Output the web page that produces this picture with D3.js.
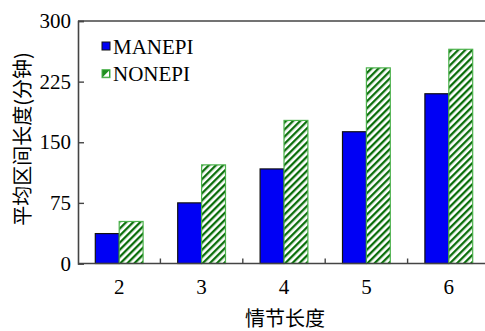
<!DOCTYPE html>
<html>
<head>
<meta charset="utf-8">
<script src="https://cdn.jsdelivr.net/npm/d3@7"></script>
<style>
  body { margin: 0; background: #fff; }
  svg { display: block; }
  svg text.serif { font-family: "Times New Roman", "Liberation Serif", Tinos, "DejaVu Serif", serif; }
  svg text.cjk { font-family: "Noto Sans CJK SC", sans-serif; }
</style>
</head>
<body>
<svg id="chart" width="485" height="331"></svg>
<script>
// Episode length categories and the two series of mean interval lengths (minutes)
const categories = ["2", "3", "4", "5", "6"];
const seriesNames = ["MANEPI", "NONEPI"];
const manepi = [37, 75, 117, 163, 210];
const nonepi = [52, 122, 177, 242, 265];
const yTicks = [0, 75, 150, 225, 300];
const xTitle = "情节长度";
const yTitle = "平均区间长度(分钟)";

const rows = categories.map((c, i) => ({ cat: c, MANEPI: manepi[i], NONEPI: nonepi[i] }));

const svg = d3.select("#chart");
const plotL = 78, plotT = 21, plotB = 263.5, plotR = 490;
const axisColor = "#444";

// Diagonal hatch for the NONEPI bars
const defs = svg.append("defs");
const pat = defs.append("pattern")
  .attr("id", "hatch")
  .attr("patternUnits", "userSpaceOnUse")
  .attr("width", 5).attr("height", 5)
  .attr("patternTransform", "rotate(45)");
pat.append("rect").attr("width", 5).attr("height", 5).attr("fill", "#fff");
pat.append("rect").attr("x", 0).attr("y", 0).attr("width", 2.3).attr("height", 5).attr("fill", "#0b6e0b");

const x0 = d3.scaleBand().domain(categories).range([plotL, plotR]).padding(0);
const groupW = x0.bandwidth() * 0.58;
const x1 = d3.scaleBand().domain(seriesNames)
  .range([(x0.bandwidth() - groupW) / 2, (x0.bandwidth() + groupW) / 2]).padding(0);
const y = d3.scaleLinear().domain([0, 300]).range([plotB, plotT]);

const fills = { MANEPI: "#0000f5", NONEPI: "url(#hatch)" };
const strokes = { MANEPI: "#111", NONEPI: "#4cb24c" };

// Bars
const groups = svg.append("g").selectAll("g").data(rows).join("g")
  .attr("transform", d => `translate(${x0(d.cat)},0)`);
groups.selectAll("rect").data(d => seriesNames.map(s => ({ s, v: d[s] }))).join("rect")
  .attr("x", d => x1(d.s))
  .attr("y", d => y(d.v))
  .attr("width", x1.bandwidth())
  .attr("height", d => y(0) - y(d.v))
  .attr("fill", d => fills[d.s])
  .attr("stroke", d => strokes[d.s])
  .attr("stroke-width", 1.2);

// Y axis with inward ticks
const yAxis = d3.axisLeft(y).tickValues(yTicks).tickSize(-6).tickPadding(7);
const yg = svg.append("g").attr("transform", `translate(${plotL},0)`).call(yAxis);
yg.attr("font-family", null).attr("font-size", null);
yg.select(".domain").attr("stroke", axisColor).attr("stroke-width", 1.6);
yg.selectAll(".tick line").attr("stroke", axisColor).attr("stroke-width", 1.4);
yg.selectAll(".tick text").attr("class", "serif")
  .style("font-size", "21px").attr("fill", "#000");

// X axis: baseline with small ticks between groups, plus the top frame line
svg.append("line").attr("x1", plotL).attr("x2", plotR).attr("y1", plotB).attr("y2", plotB)
  .attr("stroke", axisColor).attr("stroke-width", 1.6);
svg.append("line").attr("x1", plotL).attr("x2", plotR).attr("y1", plotT).attr("y2", plotT)
  .attr("stroke", axisColor).attr("stroke-width", 1.6);
svg.append("g").selectAll("line").data(categories.slice(1)).join("line")
  .attr("x1", d => x0(d)).attr("x2", d => x0(d))
  .attr("y1", plotB).attr("y2", plotB - 5)
  .attr("stroke", axisColor).attr("stroke-width", 1.4);
svg.append("g").selectAll("text").data(categories).join("text")
  .attr("class", "serif")
  .attr("x", d => x0(d) + x0.bandwidth() / 2)
  .attr("y", 294)
  .attr("text-anchor", "middle")
  .style("font-size", "21px")
  .text(d => d);

// Axis titles
svg.append("text")
  .attr("class", "cjk")
  .attr("x", 285).attr("y", 326)
  .attr("text-anchor", "middle")
  .style("font-size", "20px")
  .text(xTitle);
svg.append("text")
  .attr("class", "cjk")
  .attr("transform", "translate(30,139) rotate(-90)")
  .attr("text-anchor", "middle")
  .style("font-size", "20px")
  .text(yTitle);

// Legend
const legend = svg.append("g").selectAll("g").data(seriesNames).join("g")
  .attr("transform", (d, i) => `translate(102,${42 + i * 27.7})`);
legend.append("rect")
  .attr("width", 8).attr("height", 8)
  .attr("fill", d => d === "MANEPI" ? "#0000f5" : "#1f8f1f")
  .attr("stroke", d => strokes[d]).attr("stroke-width", 1);
legend.filter(d => d === "NONEPI").append("path")
  .attr("d", "M1.5,6.5 L6.5,1.5 L7,1 L7,7 L1,7 Z")
  .attr("fill", "#fff");
legend.append("text")
  .attr("class", "serif")
  .attr("x", 11).attr("y", 11.5)
  .style("font-size", "21px")
  .text(d => d);
</script>
</body>
</html>
